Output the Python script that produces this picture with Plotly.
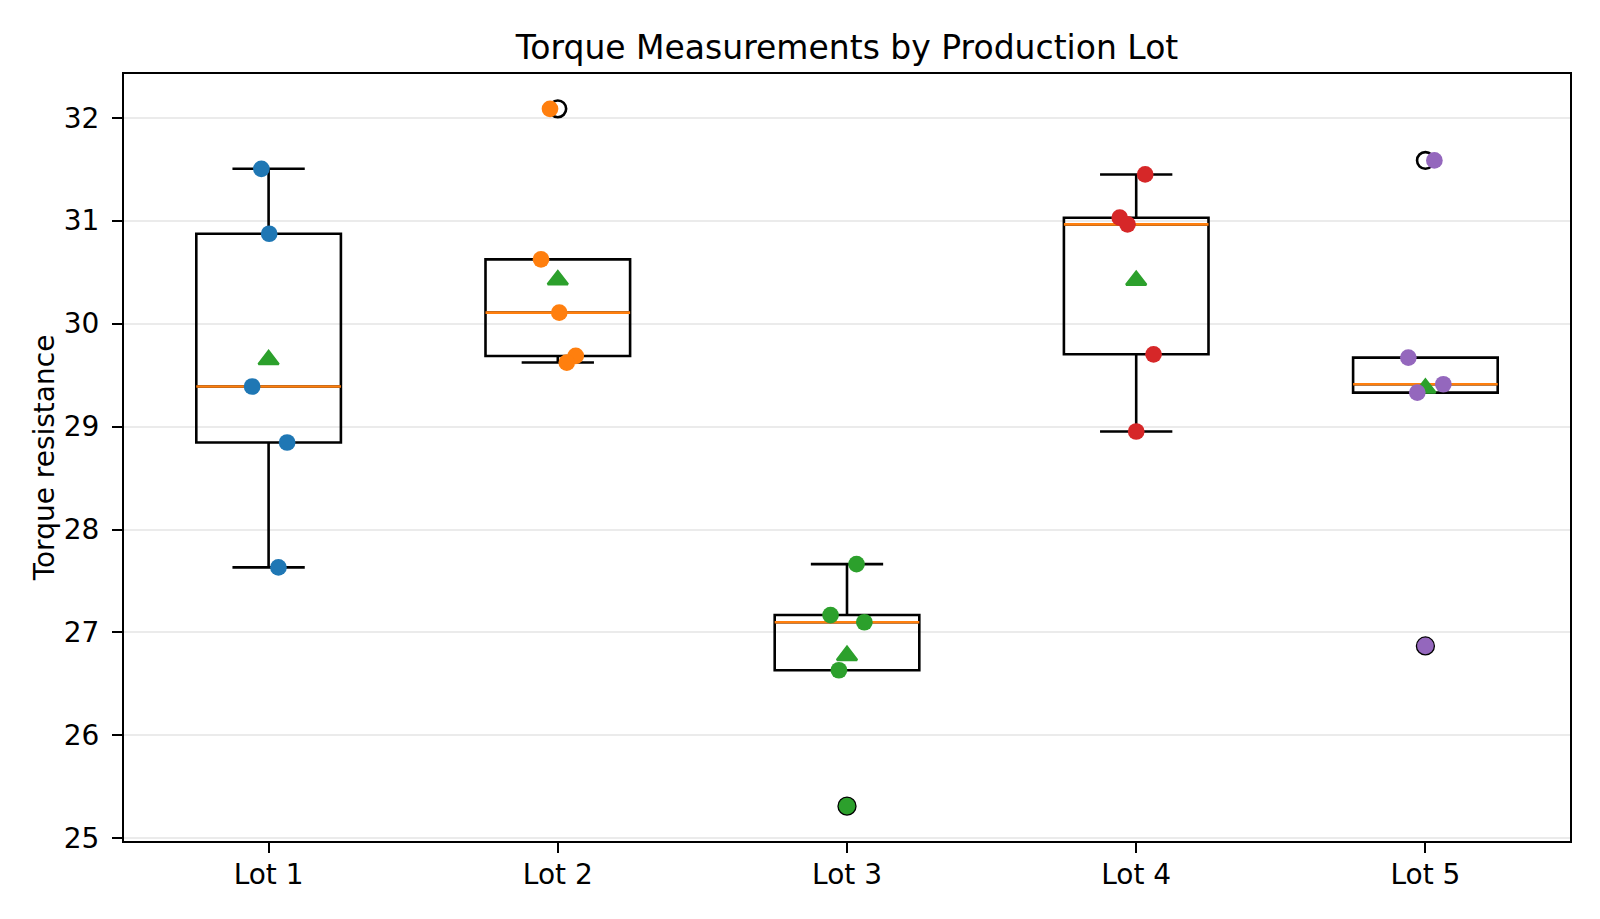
import numpy as np
import plotly.graph_objects as go

# ---- data ----
lots = ["Lot 1", "Lot 2", "Lot 3", "Lot 4", "Lot 5"]
lot1 = [31.504, 30.873, 29.389, 28.845, 27.632]
lot2 = [32.086, 30.624, 30.107, 29.686, 29.622]
lot3 = [27.664, 27.169, 27.099, 26.633, 25.313]
lot4 = [31.449, 31.029, 30.964, 29.702, 28.952]
lot5 = [31.585, 29.670, 29.411, 29.330, 26.869]
jitter1 = [-0.025, 0.002, -0.057, 0.064, 0.034]
jitter2 = [-0.027, -0.058, 0.005, 0.062, 0.031]
jitter3 = [0.033, -0.057, 0.060, -0.028, 0.0]
jitter4 = [0.031, -0.057, -0.030, 0.060, 0.0]
jitter5 = [0.031, -0.059, 0.062, -0.028, 0.0]
colors = ["#1f77b4", "#ff7f0e", "#2ca02c", "#d62728", "#9467bd"]
y_ticks = [25, 26, 27, 28, 29, 30, 31, 32]

series = [lot1, lot2, lot3, lot4, lot5]
jitters = [jitter1, jitter2, jitter3, jitter4, jitter5]
positions = [1, 2, 3, 4, 5]

FONT = "DejaVu Sans"
LW = 2.6
MS = 16.7
BOX_W = 0.5

fig = go.Figure()

stats = []
for pos, vals in zip(positions, series):
    v = np.array(vals)
    q1, med, q3 = np.percentile(v, [25, 50, 75])
    iqr = q3 - q1
    lo = v[v >= q1 - 1.5 * iqr].min()
    hi = v[v <= q3 + 1.5 * iqr].max()
    fl = v[(v < lo) | (v > hi)]
    stats.append((pos, q1, med, q3, lo, hi, fl, v.mean()))

# boxes (black outline)
for pos, q1, med, q3, lo, hi, fl, mean in stats:
    fig.add_trace(go.Box(
        x=[pos], q1=[q1], median=[med], q3=[q3],
        lowerfence=[lo], upperfence=[hi],
        width=BOX_W, whiskerwidth=0.5,
        line=dict(color="black", width=LW),
        fillcolor="rgba(0,0,0,0)",
        boxpoints=False, showlegend=False, hoverinfo="skip",
    ))

# medians
for pos, q1, med, q3, lo, hi, fl, mean in stats:
    fig.add_trace(go.Scatter(
        x=[pos - BOX_W / 2, pos + BOX_W / 2], y=[med, med], mode="lines",
        line=dict(color="#ff7f0e", width=LW), showlegend=False, hoverinfo="skip",
    ))

# means
fig.add_trace(go.Scatter(
    x=[s[0] for s in stats], y=[s[7] for s in stats], mode="markers",
    marker=dict(symbol="triangle-up", size=17.5, color="#2ca02c",
                line=dict(color="#2ca02c", width=2.4)),
    showlegend=False, hoverinfo="skip",
))

# fliers
fx, fy = [], []
for pos, q1, med, q3, lo, hi, fl, mean in stats:
    fx += [pos] * len(fl)
    fy += list(fl)
fig.add_trace(go.Scatter(
    x=fx, y=fy, mode="markers",
    marker=dict(symbol="circle-open", size=MS, color="black",
                line=dict(color="black", width=LW)),
    showlegend=False, hoverinfo="skip",
))

# jittered points
for pos, vals, jit, col in zip(positions, series, jitters, colors):
    fig.add_trace(go.Scatter(
        x=[pos + j for j in jit], y=vals, mode="markers",
        marker=dict(size=MS, color=col, line=dict(width=0)),
        showlegend=False, hoverinfo="skip",
    ))

allv = np.concatenate([np.array(s) for s in series])
ymin, ymax = allv.min(), allv.max()
pad = 0.05 * (ymax - ymin)

fig.update_layout(
    width=1600, height=919, autosize=False,
    margin=dict(l=124, r=30, t=74, b=78),
    plot_bgcolor="white", paper_bgcolor="white",
    font=dict(family=FONT, size=28, color="black"),
    title=dict(text="Torque Measurements by Production Lot",
               font=dict(family=FONT, size=33, color="black"),
               x=(124 + 1570) / 2 / 1600, xanchor="center", xref="container",
               y=1 - 47 / 919, yanchor="middle", yref="container"),
    xaxis=dict(range=[0.5, 5.5], tickvals=positions, ticktext=lots,
               showgrid=False, zeroline=False,
               ticks="outside", ticklen=10, tickwidth=2.2, tickcolor="black",
               showline=True, linecolor="black", linewidth=2.2, mirror=True,
               ticklabelstandoff=-3,
               tickfont=dict(family=FONT, size=28, color="black")),
    yaxis=dict(range=[ymin - pad, ymax + pad], tickvals=y_ticks,
               showgrid=True, gridcolor="#ebebeb", gridwidth=2, zeroline=False,
               ticks="outside", ticklen=10, tickwidth=2.2, tickcolor="black",
               showline=True, linecolor="black", linewidth=2.2, mirror=True,
               ticklabelstandoff=7,
               tickfont=dict(family=FONT, size=28, color="black"),
               title=dict(text="Torque resistance", standoff=1,
                          font=dict(family=FONT, size=28, color="black"))),
)

fig.write_html("out.html")
